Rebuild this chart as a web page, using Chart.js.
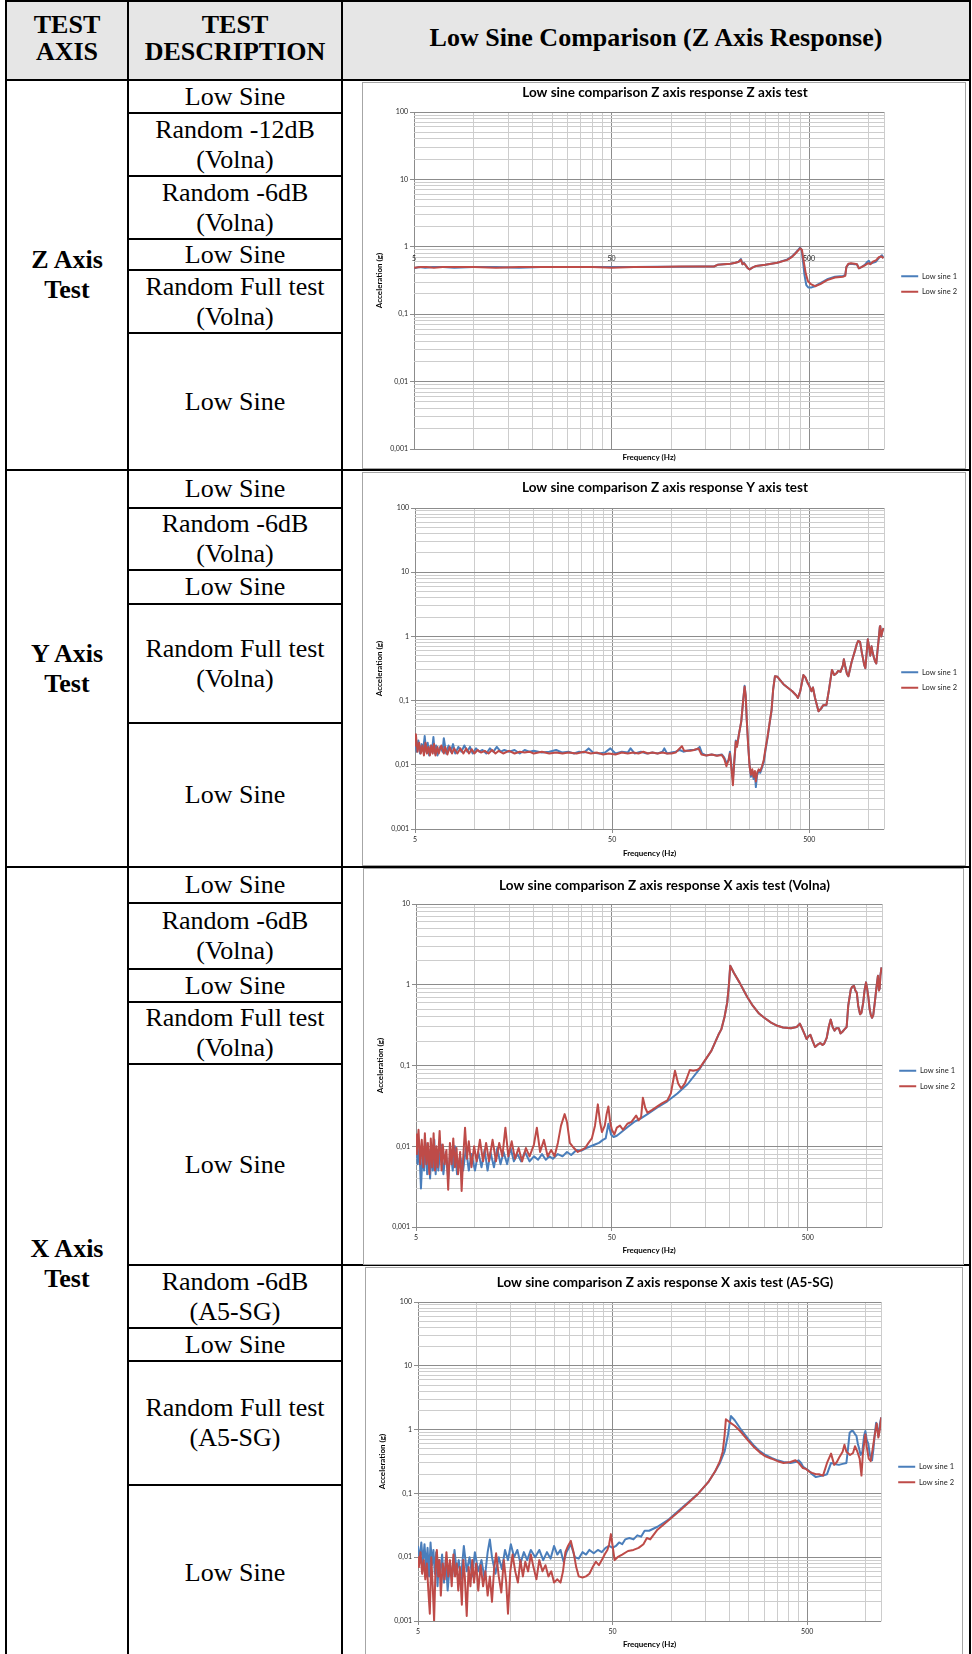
<!DOCTYPE html>
<html>
<head>
<meta charset="utf-8">
<script src="https://cdn.jsdelivr.net/npm/chart.js@4.4.1/dist/chart.umd.min.js"></script>
<style>
  body { margin: 0; background: #fff; width: 972px; height: 1654px; position: relative; overflow: hidden;
         font-family: "Liberation Serif", "Times New Roman", serif; }
  .cell { position: absolute; box-sizing: border-box; border: 2px solid #000; display: flex;
          align-items: center; justify-content: center; text-align: center; font-size: 26px;
          line-height: 30px; color: #000; background: #fff; }
  .head { background: #e6e6e6; font-weight: bold; font-size: 26px; line-height: 27px; padding-bottom: 6px; }
  .bold { font-weight: bold; }
  .frame { position: absolute; box-sizing: border-box; border: 1px solid #a6a6a6; background: #fff; }
  .frame canvas { position: absolute; left: 0; top: 0; }
</style>
</head>
<body>
<script>
// ---- data: [frequency (Hz), acceleration (g)] ----
const zSine1 = [[5,0.48],[5.3,0.5],[5.7,0.49],[6.2,0.5],[7,0.5],[8,0.49],[10,0.5],[13,0.5],[17,0.49],[22,0.5],[30,0.5],[40,0.5],[50,0.5],[65,0.5],[85,0.505],[110,0.505],[140,0.51],[165,0.51],[172,0.54],[185,0.55],[200,0.56],[212,0.58],[220,0.6],[226,0.66],[230,0.55],[234,0.58],[239,0.53],[245,0.48],[250,0.46],[258,0.49],[270,0.52],[300,0.54],[345,0.58],[388,0.65],[410,0.72],[425,0.8],[440,0.9],[450,0.97],[458,0.9],[466,0.6],[474,0.38],[484,0.27],[495,0.25],[515,0.25],[535,0.26],[570,0.29],[617,0.33],[676,0.36],[741,0.37],[762,0.38],[772,0.5],[790,0.55],[814,0.56],[850,0.55],[873,0.55],[893,0.48],[920,0.5],[957,0.54],[985,0.6],[1003,0.62],[1020,0.56],[1051,0.58],[1090,0.6],[1127,0.68],[1169,0.75],[1190,0.68]];
const zSine2 = [[5,0.49],[5.4,0.5],[5.8,0.5],[6.3,0.49],[7,0.5],[8,0.5],[10,0.5],[13,0.49],[17,0.5],[22,0.5],[30,0.5],[40,0.5],[50,0.49],[65,0.5],[85,0.5],[110,0.51],[140,0.51],[165,0.51],[172,0.54],[185,0.55],[200,0.56],[212,0.58],[220,0.6],[226,0.64],[230,0.55],[234,0.57],[239,0.53],[245,0.48],[250,0.46],[258,0.49],[270,0.52],[300,0.54],[345,0.58],[388,0.64],[410,0.71],[425,0.79],[440,0.88],[450,0.95],[460,0.9],[470,0.6],[481,0.4],[493,0.31],[510,0.28],[536,0.26],[570,0.28],[617,0.32],[676,0.35],[741,0.36],[762,0.37],[772,0.5],[790,0.56],[814,0.57],[850,0.56],[873,0.55],[893,0.48],[920,0.5],[957,0.53],[985,0.56],[1003,0.57],[1020,0.55],[1051,0.6],[1090,0.63],[1127,0.7],[1160,0.72],[1190,0.68]];

const ySine1 = [[5,0.022],[5.1,0.016],[5.2,0.024],[5.3,0.015],[5.4,0.021],[5.5,0.017],[5.6,0.028],[5.7,0.016],[5.8,0.022],[5.9,0.014],[6,0.02],[6.1,0.016],[6.2,0.027],[6.3,0.015],[6.4,0.02],[6.5,0.014],[6.7,0.019],[6.9,0.016],[7,0.026],[7.2,0.015],[7.4,0.02],[7.6,0.016],[7.8,0.021],[8,0.015],[8.3,0.019],[8.6,0.016],[8.9,0.02],[9.2,0.016],[9.5,0.019],[9.8,0.015],[10.2,0.018],[10.6,0.016],[11,0.017],[11.5,0.015],[12,0.018],[12.5,0.016],[13,0.019],[13.6,0.016],[14.2,0.017],[15,0.016],[16,0.017],[17,0.015],[18,0.017],[19,0.016],[20,0.0165],[22,0.0155],[24,0.016],[26,0.017],[28,0.0155],[30,0.016],[32,0.015],[34,0.016],[36,0.0155],[38,0.018],[40,0.0155],[43,0.015],[46,0.0155],[49,0.018],[52,0.015],[56,0.016],[60,0.0155],[62,0.018],[65,0.015],[70,0.016],[75,0.015],[80,0.0155],[85,0.015],[90,0.016],[92,0.018],[95,0.015],[100,0.0155],[105,0.016],[110,0.017],[115,0.016],[120,0.0165],[125,0.017],[130,0.017],[135,0.0175],[139,0.019],[143,0.015],[150,0.014],[160,0.0145],[170,0.014],[180,0.0145],[185,0.013],[191,0.0105],[195,0.012],[198,0.016],[202,0.009],[205,0.006],[208,0.01],[212,0.024],[215,0.02],[220,0.03],[226,0.047],[231,0.1],[235,0.17],[238,0.12],[241,0.05],[245,0.02],[249,0.01],[253,0.0065],[257,0.008],[261,0.006],[265,0.0075],[268,0.0045],[272,0.007],[277,0.008],[282,0.0075],[288,0.009],[294,0.011],[300,0.017],[307,0.026],[315,0.045],[322,0.07],[328,0.15],[335,0.24],[345,0.235],[355,0.21],[370,0.18],[388,0.16],[410,0.14],[430,0.12],[438,0.11],[450,0.14],[467,0.25],[478,0.23],[490,0.19],[500,0.17],[513,0.14],[522,0.16],[535,0.11],[557,0.068],[575,0.075],[589,0.085],[611,0.085],[630,0.15],[652,0.3],[670,0.25],[690,0.27],[701,0.29],[720,0.28],[740,0.35],[749,0.44],[760,0.35],[777,0.26],[790,0.24],[820,0.4],[853,0.6],[870,0.75],[885,0.85],[905,0.82],[925,0.55],[937,0.45],[950,0.36],[963,0.32],[975,0.5],[991,0.9],[1005,0.7],[1020,0.5],[1035,0.7],[1050,0.55],[1068,0.45],[1082,0.4],[1094,0.38],[1110,0.6],[1125,0.9],[1140,1.4],[1146,1.45],[1160,1.0],[1175,1.2],[1191,1.35]];
const ySine2 = [[5,0.02],[5.05,0.03],[5.15,0.016],[5.25,0.022],[5.35,0.015],[5.45,0.02],[5.55,0.014],[5.65,0.022],[5.75,0.015],[5.85,0.019],[5.95,0.014],[6.05,0.02],[6.15,0.015],[6.25,0.021],[6.35,0.014],[6.5,0.019],[6.6,0.015],[6.8,0.02],[7,0.015],[7.1,0.019],[7.3,0.0145],[7.5,0.019],[7.7,0.015],[7.9,0.018],[8.2,0.015],[8.5,0.018],[8.8,0.015],[9.1,0.018],[9.4,0.015],[9.7,0.0175],[10,0.015],[10.4,0.017],[10.8,0.0155],[11.3,0.0165],[11.8,0.015],[12.3,0.017],[12.8,0.015],[13.3,0.0165],[14,0.015],[15,0.0165],[16,0.015],[17,0.016],[18,0.0155],[19,0.016],[20,0.015],[22,0.016],[24,0.015],[26,0.0155],[28,0.015],[30,0.0155],[33,0.015],[36,0.016],[39,0.015],[42,0.0155],[45,0.0145],[48,0.015],[52,0.0145],[56,0.0155],[60,0.015],[64,0.0155],[68,0.015],[72,0.016],[76,0.015],[80,0.0155],[85,0.015],[90,0.0155],[95,0.015],[100,0.015],[105,0.0155],[110,0.018],[113,0.0195],[116,0.0165],[120,0.0165],[125,0.0165],[130,0.017],[137,0.018],[142,0.0145],[150,0.014],[160,0.0145],[170,0.0138],[180,0.0142],[185,0.0125],[190,0.0095],[195,0.012],[198,0.015],[202,0.008],[205,0.0048],[208,0.011],[212,0.023],[215,0.019],[220,0.03],[226,0.048],[231,0.1],[235,0.165],[238,0.12],[241,0.05],[245,0.02],[249,0.0095],[253,0.007],[257,0.0085],[261,0.0065],[265,0.008],[268,0.0055],[272,0.0075],[277,0.0085],[282,0.008],[288,0.0095],[294,0.012],[300,0.018],[307,0.027],[315,0.046],[322,0.072],[328,0.15],[335,0.24],[345,0.235],[355,0.21],[370,0.18],[388,0.16],[410,0.14],[430,0.12],[438,0.11],[450,0.14],[467,0.25],[478,0.23],[490,0.19],[500,0.17],[513,0.14],[522,0.16],[535,0.11],[557,0.068],[575,0.076],[589,0.085],[611,0.086],[630,0.15],[652,0.3],[670,0.25],[690,0.27],[701,0.29],[720,0.28],[740,0.35],[749,0.44],[760,0.35],[777,0.26],[790,0.24],[820,0.4],[853,0.6],[870,0.75],[885,0.85],[905,0.82],[925,0.55],[937,0.45],[950,0.36],[963,0.32],[975,0.5],[991,0.9],[1005,0.7],[1020,0.5],[1035,0.7],[1050,0.55],[1068,0.45],[1082,0.4],[1094,0.38],[1110,0.6],[1125,0.9],[1140,1.4],[1146,1.45],[1160,1.0],[1175,1.2],[1191,1.35]];

const xvSine1 = [[5,0.012],[5.1,0.006],[5.2,0.0095],[5.3,0.003],[5.4,0.008],[5.5,0.005],[5.6,0.011],[5.7,0.0045],[5.8,0.009],[5.9,0.004],[6,0.0085],[6.1,0.005],[6.2,0.012],[6.3,0.0045],[6.4,0.009],[6.5,0.005],[6.7,0.0105],[6.9,0.0045],[7.1,0.0085],[7.3,0.004],[7.5,0.009],[7.7,0.005],[7.9,0.01],[8.1,0.0045],[8.4,0.0075],[8.7,0.005],[9,0.0095],[9.3,0.005],[9.6,0.008],[10,0.005],[10.4,0.0085],[10.8,0.0055],[11.2,0.009],[11.6,0.005],[12,0.0085],[12.5,0.0055],[13,0.0095],[13.5,0.006],[14,0.0085],[14.6,0.006],[15.2,0.0095],[15.8,0.0065],[16.5,0.008],[17.2,0.0065],[18,0.0085],[19,0.0065],[20,0.0075],[21,0.0068],[22,0.008],[23,0.0068],[24,0.0075],[25,0.007],[26.5,0.008],[28,0.0075],[29.5,0.0085],[31,0.0078],[33,0.009],[35,0.0088],[37,0.0095],[39,0.01],[41,0.0105],[43,0.011],[45,0.012],[46.5,0.0125],[48,0.019],[49.5,0.014],[51,0.013],[53,0.0135],[56,0.015],[60,0.0172],[65,0.02],[70,0.022],[76,0.025],[85,0.03],[96,0.036],[108,0.045],[122,0.059],[140,0.09],[161,0.152],[175,0.24],[181,0.28],[188,0.4],[194,0.6],[198,1.0],[201,1.72],[210,1.4],[224,1.07],[235,0.86],[246,0.7],[262,0.55],[282,0.44],[300,0.39],[325,0.34],[350,0.31],[374,0.296],[410,0.29],[439,0.3],[456,0.33],[467,0.29],[480,0.25],[493,0.213],[505,0.23],[516,0.24],[530,0.2],[545,0.17],[560,0.18],[579,0.19],[595,0.18],[606,0.185],[625,0.22],[640,0.3],[655,0.37],[670,0.3],[685,0.27],[700,0.29],[720,0.29],[735,0.25],[750,0.26],[770,0.28],[790,0.3],[805,0.55],[830,0.88],[845,0.95],[861,0.97],[875,0.85],[890,0.8],[905,0.55],[925,0.43],[940,0.45],[960,0.6],[975,0.85],[992,1.07],[1005,0.9],[1020,0.7],[1035,0.5],[1050,0.42],[1065,0.39],[1080,0.42],[1100,0.6],[1120,0.9],[1141,1.29],[1155,0.85],[1165,0.9],[1175,1.3],[1190,1.64]];
const xvSine2 = [[5,0.014],[5.05,0.008],[5.15,0.016],[5.25,0.006],[5.35,0.012],[5.45,0.0055],[5.55,0.0145],[5.65,0.006],[5.75,0.011],[5.85,0.0045],[5.95,0.0125],[6.05,0.0055],[6.15,0.0145],[6.25,0.005],[6.35,0.01],[6.45,0.0055],[6.6,0.0155],[6.75,0.005],[6.85,0.0105],[7,0.006],[7.15,0.009],[7.3,0.0029],[7.45,0.011],[7.6,0.006],[7.75,0.0125],[7.9,0.0055],[8.05,0.0095],[8.2,0.0045],[8.4,0.0085],[8.55,0.0028],[8.7,0.007],[8.9,0.017],[9.1,0.007],[9.3,0.0115],[9.6,0.0055],[9.9,0.01],[10.2,0.0065],[10.6,0.012],[11,0.0065],[11.4,0.011],[11.8,0.0065],[12.3,0.012],[12.8,0.0065],[13.3,0.011],[13.8,0.0075],[14.3,0.017],[14.8,0.0075],[15.4,0.0115],[16,0.007],[16.7,0.0095],[17.4,0.0065],[18.2,0.0095],[19,0.0075],[20,0.0105],[20.7,0.017],[21.5,0.0085],[22.5,0.012],[23.5,0.0075],[24.5,0.009],[25.5,0.0075],[26.5,0.011],[27.5,0.018],[28.7,0.025],[29.5,0.02],[30.5,0.011],[32,0.0095],[33.5,0.0085],[35,0.009],[36.5,0.0095],[38,0.011],[39.5,0.0125],[41,0.018],[42.4,0.033],[43.5,0.02],[44.5,0.015],[46,0.018],[47,0.025],[48,0.031],[49,0.02],[50,0.016],[51.5,0.014],[53,0.017],[55,0.018],[57,0.016],[60,0.019],[63,0.02],[66.5,0.024],[68.5,0.021],[70.5,0.023],[72,0.04],[74,0.03],[76,0.026],[80,0.028],[85,0.031],[90,0.034],[96,0.037],[100,0.045],[105,0.086],[109,0.06],[113,0.052],[118,0.06],[125,0.088],[130,0.086],[136,0.088],[140,0.092],[161,0.152],[175,0.24],[181,0.28],[188,0.4],[194,0.6],[198,1.0],[201,1.72],[210,1.4],[224,1.07],[235,0.86],[246,0.7],[262,0.55],[282,0.44],[300,0.39],[325,0.34],[350,0.31],[374,0.296],[410,0.29],[439,0.3],[456,0.33],[467,0.29],[480,0.25],[493,0.213],[505,0.23],[516,0.24],[530,0.2],[545,0.17],[560,0.18],[579,0.19],[595,0.18],[606,0.185],[625,0.22],[640,0.3],[655,0.37],[670,0.3],[685,0.27],[700,0.29],[720,0.29],[735,0.25],[750,0.26],[770,0.28],[790,0.3],[805,0.55],[830,0.88],[845,0.95],[861,0.97],[875,0.85],[890,0.8],[905,0.55],[925,0.43],[940,0.45],[960,0.6],[975,0.85],[992,1.07],[1005,0.9],[1020,0.7],[1035,0.5],[1050,0.42],[1065,0.39],[1080,0.42],[1100,0.6],[1120,0.9],[1141,1.29],[1155,0.85],[1165,0.9],[1175,1.3],[1190,1.64]];

const xaSine1 = [[5,0.015],[5.1,0.009],[5.2,0.017],[5.3,0.008],[5.4,0.016],[5.5,0.007],[5.6,0.014],[5.7,0.005],[5.8,0.017],[5.9,0.0075],[6,0.013],[6.1,0.0055],[6.2,0.012],[6.3,0.0035],[6.4,0.009],[6.5,0.005],[6.65,0.011],[6.8,0.004],[6.95,0.0095],[7.1,0.003],[7.3,0.008],[7.5,0.005],[7.7,0.013],[7.9,0.006],[8.1,0.009],[8.3,0.0045],[8.6,0.015],[8.9,0.006],[9.2,0.01],[9.5,0.005],[9.8,0.012],[10.2,0.006],[10.6,0.009],[11,0.0045],[11.4,0.012],[11.7,0.019],[12,0.01],[12.5,0.0055],[13,0.01],[13.5,0.0065],[14,0.013],[14.5,0.009],[15,0.016],[15.6,0.01],[16.2,0.013],[16.8,0.008],[17.5,0.012],[18.2,0.009],[19,0.013],[20,0.01],[21,0.013],[22,0.009],[23,0.012],[24,0.0095],[25,0.015],[26,0.011],[27,0.013],[28,0.0085],[29,0.012],[30.5,0.016],[32,0.01],[33.5,0.0095],[35,0.012],[36.5,0.011],[38,0.013],[40,0.0115],[42,0.013],[44,0.012],[46,0.014],[48,0.015],[50,0.014],[52,0.015],[54,0.017],[56,0.016],[58,0.019],[61,0.02],[64,0.019],[67,0.022],[70,0.021],[73,0.026],[77,0.026],[85,0.03],[97,0.039],[108,0.052],[122,0.072],[138,0.1],[155,0.15],[168,0.22],[178,0.3],[188,0.45],[196,0.84],[200,1.3],[203,1.63],[212,1.4],[226,1.05],[248,0.72],[265,0.57],[285,0.46],[305,0.4],[328,0.36],[352,0.33],[378,0.31],[410,0.3],[435,0.31],[451,0.33],[465,0.3],[477,0.26],[495,0.24],[511,0.225],[530,0.2],[554,0.18],[575,0.185],[603,0.19],[632,0.2],[663,0.3],[690,0.29],[727,0.28],[760,0.29],[795,0.3],[810,0.5],[826,0.89],[845,0.95],[860,0.95],[880,0.85],[895,0.8],[910,0.6],[925,0.5],[940,0.4],[960,0.45],[980,0.8],[995,0.95],[1010,0.7],[1030,0.6],[1050,0.4],[1077,0.33],[1095,0.5],[1110,0.8],[1130,1.28],[1150,1.0],[1165,0.8],[1180,1.2],[1200,1.55]];
const xaSine2 = [[5,0.01],[5.05,0.007],[5.15,0.012],[5.25,0.0055],[5.35,0.009],[5.45,0.0045],[5.55,0.008],[5.65,0.003],[5.75,0.0013],[5.85,0.01],[5.95,0.0035],[6.05,0.001],[6.15,0.0065],[6.25,0.013],[6.35,0.005],[6.45,0.009],[6.55,0.0025],[6.7,0.008],[6.85,0.0045],[7,0.012],[7.15,0.005],[7.3,0.009],[7.45,0.0035],[7.6,0.011],[7.75,0.005],[7.9,0.008],[8.05,0.003],[8.2,0.007],[8.4,0.0018],[8.55,0.009],[8.7,0.005],[8.9,0.0012],[9.1,0.007],[9.3,0.0035],[9.5,0.009],[9.7,0.004],[9.95,0.008],[10.2,0.003],[10.5,0.0075],[10.8,0.0035],[11.1,0.006],[11.4,0.0025],[11.7,0.005],[12,0.002],[12.3,0.0065],[12.6,0.0115],[13,0.005],[13.4,0.0028],[13.8,0.009],[14.2,0.004],[14.5,0.0013],[14.9,0.006],[15.3,0.011],[15.8,0.006],[16.3,0.004],[16.8,0.009],[17.3,0.005],[17.8,0.0085],[18.4,0.006],[19,0.011],[19.6,0.007],[20.3,0.0045],[21,0.009],[21.8,0.006],[22.6,0.0075],[23.4,0.005],[24.2,0.006],[25,0.004],[26,0.0045],[27,0.004],[27.8,0.006],[28.6,0.012],[29.5,0.015],[30.5,0.018],[31.5,0.012],[32.5,0.007],[33.5,0.005],[35,0.0048],[36.5,0.005],[38,0.0055],[39.5,0.007],[41,0.0085],[42.5,0.0075],[44,0.009],[45.5,0.011],[47,0.013],[48,0.016],[49,0.023],[50,0.015],[51.2,0.009],[53,0.01],[56,0.011],[60,0.0125],[64,0.013],[68,0.014],[72,0.016],[75,0.02],[78,0.019],[85,0.027],[97,0.038],[108,0.05],[122,0.07],[138,0.1],[155,0.15],[168,0.22],[178,0.32],[184,0.45],[188,0.8],[191,1.45],[200,1.3],[212,1.15],[226,0.95],[248,0.68],[265,0.54],[285,0.44],[305,0.38],[328,0.35],[352,0.32],[378,0.3],[410,0.31],[435,0.33],[452,0.3],[475,0.25],[495,0.24],[511,0.22],[530,0.21],[554,0.2],[575,0.2],[603,0.19],[632,0.3],[663,0.42],[688,0.28],[710,0.31],[735,0.38],[760,0.45],[777,0.58],[795,0.45],[830,0.4],[860,0.43],[880,0.55],[905,0.45],[930,0.35],[950,0.19],[965,0.4],[980,0.6],[995,0.84],[1010,0.55],[1035,0.35],[1060,0.32],[1085,0.5],[1110,0.8],[1138,1.25],[1160,0.75],[1180,1.0],[1200,1.55]];

const seriesNames = ['Low sine 1', 'Low sine 2'];
const seriesColors = ['#4a7ebb', '#be4b48'];
const chartTitles = [
  'Low sine comparison Z axis response Z axis test',
  'Low sine comparison Z axis response Y axis test',
  'Low sine comparison Z axis response X axis test (Volna)',
  'Low sine comparison Z axis response X axis test (A5-SG)'
];
const freqRange = [5, 1200];
const accelRanges = [[0.001, 100], [0.001, 100], [0.001, 10], [0.001, 100]];

// ---- table layout ----
const cells = [
  [6, 1, 128, 80, 'TEST<br>AXIS', 'head'],
  [128, 1, 342, 80, 'TEST<br>DESCRIPTION', 'head'],
  [342, 1, 970, 80, 'Low Sine Comparison (Z Axis Response)', 'head'],
  [6, 80, 128, 470, 'Z Axis<br>Test', 'bold'],
  [128, 80, 342, 113, 'Low Sine'],
  [128, 113, 342, 176, 'Random -12dB<br>(Volna)'],
  [128, 176, 342, 239, 'Random -6dB<br>(Volna)'],
  [128, 239, 342, 270, 'Low Sine'],
  [128, 270, 342, 333, 'Random Full test<br>(Volna)'],
  [128, 333, 342, 470, 'Low Sine'],
  [342, 80, 970, 470, ''],
  [6, 470, 128, 867, 'Y Axis<br>Test', 'bold'],
  [128, 470, 342, 508, 'Low Sine'],
  [128, 508, 342, 570, 'Random -6dB<br>(Volna)'],
  [128, 570, 342, 604, 'Low Sine'],
  [128, 604, 342, 723, 'Random Full test<br>(Volna)'],
  [128, 723, 342, 867, 'Low Sine'],
  [342, 470, 970, 867, ''],
  [6, 867, 128, 1660, 'X Axis<br>Test', 'bold'],
  [128, 867, 342, 903, 'Low Sine'],
  [128, 903, 342, 969, 'Random -6dB<br>(Volna)'],
  [128, 969, 342, 1002, 'Low Sine'],
  [128, 1002, 342, 1064, 'Random Full test<br>(Volna)'],
  [128, 1064, 342, 1265, 'Low Sine'],
  [128, 1265, 342, 1328, 'Random -6dB<br>(A5-SG)'],
  [128, 1328, 342, 1361, 'Low Sine'],
  [128, 1361, 342, 1485, 'Random Full test<br>(A5-SG)'],
  [128, 1485, 342, 1660, 'Low Sine'],
  [342, 867, 970, 1265, ''],
  [342, 1265, 970, 1660, '']
];

cells.forEach(([x0, y0, x1, y1, html, cls]) => {
  const d = document.createElement('div');
  d.className = 'cell' + (cls ? ' ' + cls : '');
  d.style.left = (x0 - 1) + 'px';
  d.style.top = (y0 - 1) + 'px';
  d.style.width = (x1 - x0 + 2) + 'px';
  d.style.height = (y1 - y0 + 2) + 'px';
  d.innerHTML = html;
  document.body.appendChild(d);
});

// chart frames and the offsets of the plot inside each one
const panels = [
  { box: [362, 82, 966, 469],   titleMid: 10, plotTop: 29, yWidth: 51, xHeight: 21, freqFromBottom: 13, rightSpace: 84 },
  { box: [362, 472, 966, 866],  titleMid: 15, plotTop: 35, yWidth: 52, xHeight: 38, freqFromBottom: 14, rightSpace: 84 },
  { box: [363, 868, 964, 1265], titleMid: 17, plotTop: 35, yWidth: 52, xHeight: 39, freqFromBottom: 16, rightSpace: 82 },
  { box: [365, 1267, 963, 1660], titleMid: 15, plotTop: 34, yWidth: 52, xHeight: 40, freqFromBottom: 17, rightSpace: 82 }
];
const series = [[zSine1, zSine2], [ySine1, ySine2], [xvSine1, xvSine2], [xaSine1, xaSine2]];

Chart.defaults.font.family = 'Lato';
Chart.defaults.color = '#262626';

const MAJOR = '#8c8c8c';
const MINOR = '#cdcdcd';
const TITLE_SIZE = 13.5;
const TICK_SIZE = 7;
const AXIS_TITLE_SIZE = 8;
const LEGEND_SIZE = 7.5;

function decadeTicks(first, max) {
  const vals = [];
  for (let d = first; d <= max * 1.0001; d *= 10) {
    for (let k = 1; k <= 9; k++) {
      const v = +(d * k).toPrecision(6);
      if (v <= max * 1.0001) vals.push(v);
    }
  }
  return vals;
}
function isMajor(v, first) {
  const r = Math.log10(v / first);
  return Math.abs(r - Math.round(r)) < 1e-6;
}
const fmt = v => String(v).replace('.', ',');

const measure = document.createElement('canvas').getContext('2d');
measure.font = LEGEND_SIZE + 'px Lato';
const legendTextW = Math.max(...seriesNames.map(s => measure.measureText(s).width));
const LEG_PAD = 8, LEG_BOX = 17, PAD_AXIS = 9;

panels.forEach((p, i) => {
  const [x0, y0, x1, y1] = p.box;
  const w = x1 - x0, h = y1 - y0;
  const frame = document.createElement('div');
  frame.className = 'frame';
  frame.style.left = x0 + 'px';
  frame.style.top = y0 + 'px';
  frame.style.width = w + 'px';
  frame.style.height = h + 'px';
  const canvas = document.createElement('canvas');
  canvas.width = w;
  canvas.height = h;
  frame.appendChild(canvas);
  document.body.appendChild(frame);

  const [yMin, yMax] = accelRanges[i];
  const xTicks = decadeTicks(freqRange[0], freqRange[1]).concat([freqRange[1]]);
  const yTicks = decadeTicks(yMin, yMax);
  const labelsAtOne = i === 0;

  const padTop = p.titleMid - TITLE_SIZE * 0.6;
  const legendW = LEG_PAD + LEG_BOX + LEGEND_SIZE / 2 + legendTextW + 14;
  const padRight = Math.max(0, p.rightSpace - PAD_AXIS - legendW);

  const scales = {
    x: {
      type: 'logarithmic', position: 'bottom', min: freqRange[0], max: freqRange[1],
      afterBuildTicks: s => { s.ticks = xTicks.map(v => ({ value: v })); },
      afterFit: s => { s.height = p.xHeight; },
      border: { display: false },
      grid: {
        color: c => (c.tick && isMajor(c.tick.value, freqRange[0])) ? MAJOR : MINOR,
        tickColor: c => (c.tick && isMajor(c.tick.value, freqRange[0])) ? MAJOR : 'rgba(0,0,0,0)',
        drawTicks: !labelsAtOne, tickLength: 4
      },
      ticks: {
        display: !labelsAtOne, autoSkip: false, maxRotation: 0, padding: 3,
        font: { size: TICK_SIZE },
        callback: v => isMajor(v, freqRange[0]) ? String(v) : ''
      },
      title: { display: true, text: 'Frequency (Hz)', color: '#000',
               font: { size: AXIS_TITLE_SIZE, weight: 'bold' },
               padding: { top: 0, bottom: p.freqFromBottom - AXIS_TITLE_SIZE * 0.6 } }
    },
    y: {
      type: 'logarithmic', position: 'left', min: yMin, max: yMax,
      afterBuildTicks: s => { s.ticks = yTicks.map(v => ({ value: v })); },
      afterFit: s => { s.width = p.yWidth; },
      border: { display: false },
      grid: {
        color: c => (c.tick && isMajor(c.tick.value, yMin)) ? MAJOR : MINOR,
        tickColor: c => (c.tick && isMajor(c.tick.value, yMin)) ? MAJOR : 'rgba(0,0,0,0)',
        tickLength: 4
      },
      ticks: {
        autoSkip: false, padding: 2, font: { size: TICK_SIZE },
        callback: v => isMajor(v, yMin) ? fmt(v) : ''
      },
      title: { display: true, text: 'Acceleration (g)', color: '#000',
               font: { size: AXIS_TITLE_SIZE, weight: 'bold' },
               padding: { top: 16 - AXIS_TITLE_SIZE * 0.6, bottom: 0 } }
    },
    // spacer between the plot and the legend
    gap: {
      type: 'linear', position: 'right', display: true,
      grid: { display: false }, ticks: { display: false }, border: { display: false },
      afterFit: s => { s.width = PAD_AXIS; }
    }
  };
  if (labelsAtOne) {
    // frequency labels sit on the 1 g line
    scales.xAtOne = {
      type: 'logarithmic', position: { y: 1 }, min: freqRange[0], max: freqRange[1],
      afterBuildTicks: s => { s.ticks = xTicks.filter(v => isMajor(v, freqRange[0])).map(v => ({ value: v })); },
      border: { display: false },
      grid: { display: false },
      ticks: { autoSkip: false, maxRotation: 0, padding: 0, font: { size: TICK_SIZE }, callback: v => String(v) }
    };
  }

  new Chart(canvas, {
    type: 'scatter',
    data: {
      datasets: series[i].map((pts, k) => ({
        label: seriesNames[k],
        data: pts.map(([f, a]) => ({ x: f, y: a })),
        showLine: true,
        borderColor: seriesColors[k],
        backgroundColor: seriesColors[k],
        borderWidth: 2,
        pointRadius: 0,
        borderJoinStyle: 'round',
        order: k === 0 ? 1 : 0,
        xAxisID: 'x', yAxisID: 'y'
      }))
    },
    options: {
      responsive: false,
      animation: false,
      events: [],
      layout: { padding: { top: padTop, right: padRight, left: 0, bottom: 0 } },
      scales,
      plugins: {
        tooltip: { enabled: false },
        title: {
          display: true, text: chartTitles[i], color: '#000',
          font: { size: TITLE_SIZE, weight: 'bold' },
          padding: { top: 0, bottom: p.plotTop - padTop - TITLE_SIZE * 1.2 }
        },
        legend: {
          position: 'right',
          // empty title pushes the two entries a little lower
          title: { display: true, text: ' ', font: { size: 7 }, padding: { top: 2.5, bottom: 2 } },
          labels: {
            boxWidth: LEG_BOX, boxHeight: 2, padding: LEG_PAD,
            font: { size: LEGEND_SIZE }, color: '#262626',
            sort: (a, b) => a.datasetIndex - b.datasetIndex,
            generateLabels: chart => Chart.defaults.plugins.legend.labels.generateLabels(chart)
              .map(l => Object.assign(l, { lineWidth: 0 }))
          }
        }
      }
    }
  });
});
</script>
</body>
</html>
